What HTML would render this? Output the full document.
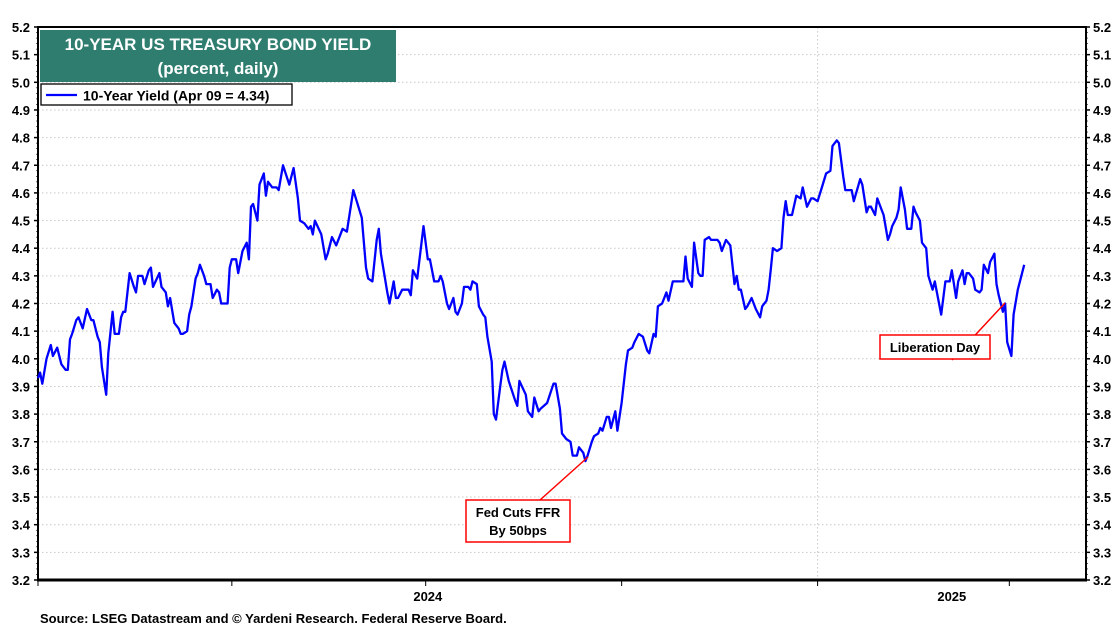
<!DOCTYPE html>
<html><head><meta charset="utf-8"><style>
html,body{margin:0;padding:0;background:#fff;}
svg{display:block;font-family:"Liberation Sans",Arial,sans-serif;}
</style></head><body>
<svg id="chart" width="1120" height="630" viewBox="0 0 1120 630">
<g id="grid"></g>
<g id="axes"></g>
<path id="line" fill="none" stroke="#0000ff" stroke-width="2.3" stroke-linejoin="round"></path>
<rect x="40" y="30" width="356" height="52" fill="#2e7d6f"/>
<text x="218" y="50" text-anchor="middle" fill="#fff" font-size="17" font-weight="bold">10-YEAR US TREASURY BOND YIELD</text>
<text x="218" y="74" text-anchor="middle" fill="#fff" font-size="17" font-weight="bold">(percent, daily)</text>
<g>
<rect x="41" y="84" width="251" height="21" fill="#fff" stroke="#000" stroke-width="1.3"/>
<line x1="46" y1="95" x2="77" y2="95" stroke="#0000ff" stroke-width="2.3"/>
<text x="83" y="100.5" font-size="14" font-weight="bold">10-Year Yield (Apr 09 = 4.34)</text>
</g>
<g>
<line x1="540" y1="500" x2="588" y2="457" stroke="#ff0000" stroke-width="1.5"/>
<rect x="466" y="500" width="104" height="42" fill="#fff" stroke="#ff0000" stroke-width="1.5"/>
<text x="518" y="517" text-anchor="middle" font-size="13" font-weight="bold">Fed Cuts FFR</text>
<text x="518" y="535" text-anchor="middle" font-size="13" font-weight="bold">By 50bps</text>
</g>
<g>
<line x1="952" y1="360" x2="1005" y2="303" stroke="#ff0000" stroke-width="1.5"/>
<rect x="880" y="335" width="110" height="24" fill="#fff" stroke="#ff0000" stroke-width="1.5"/>
<text x="935" y="352" text-anchor="middle" font-size="13" font-weight="bold">Liberation Day</text>
</g>
<text x="40" y="623" font-size="13" font-weight="bold">Source: LSEG Datastream and © Yardeni Research. Federal Reserve Board.</text>
</svg>
<script>
const days=[0,1,2,4,6,7,9,11,13,14,15,16,18,19,21,23,25,26,28,29,30,32,33,35,36,38,39,40,41,43,45,46,47,49,50,52,53,54,57,58,60,61,62,64,66,67,68,70,71,72,74,75,76,78,79,81,82,84,85,86,89,90,91,93,94,96,98,99,100,101,103,104,106,107,108,110,112,113,115,118,120,122,123,125,127,128,129,130,133,135,136,138,140,143,145,148,152,154,155,157,159,160,161,164,165,167,168,169,171,174,175,176,178,181,183,184,186,188,189,190,192,193,195,196,197,199,200,202,203,204,206,207,209,210,211,213,214,215,217,218,219,221,224,225,226,229,230,232,233,235,236,239,242,243,245,246,248,250,251,253,254,256,257,258,260,261,263,264,265,267,268,269,271,272,274,276,277,279,280,282,284,286,287,289,290,291,293,295,296,298,300,301,303,304,305,307,308,310,311,312,313,315,316,319,320,321,323,325,327,328,329,330,332,333,335,337,339,340,342,343,344,345,347,349,350,351,352,354,356,358,359,361,363,364,366,368,370,372,373,375,376,378,379,382,383,386,387,389,390,391,393,394,396,397,399,400,401,403,404,405,407,408,410,411,412,414,415,417,418,420,421,422,424,425,426,428,429,431,432,434,435,436,437,439,440,442,443,444,446,447,449,450,451,453,454,455,457,458,460,463];
const yields=[3.93,3.95,3.91,4.00,4.05,4.01,4.04,3.98,3.96,3.96,4.07,4.09,4.14,4.15,4.11,4.18,4.14,4.14,4.08,4.06,3.97,3.87,4.02,4.17,4.09,4.09,4.15,4.17,4.17,4.31,4.26,4.24,4.30,4.30,4.27,4.32,4.33,4.26,4.31,4.26,4.24,4.19,4.22,4.13,4.11,4.09,4.09,4.10,4.16,4.19,4.29,4.31,4.34,4.30,4.27,4.27,4.22,4.25,4.24,4.20,4.20,4.33,4.36,4.36,4.31,4.39,4.42,4.36,4.55,4.56,4.50,4.63,4.67,4.59,4.64,4.62,4.62,4.61,4.70,4.63,4.69,4.58,4.50,4.49,4.47,4.48,4.45,4.50,4.45,4.36,4.38,4.44,4.41,4.47,4.46,4.61,4.51,4.33,4.29,4.28,4.43,4.47,4.38,4.24,4.20,4.28,4.22,4.22,4.25,4.25,4.23,4.32,4.29,4.48,4.36,4.36,4.28,4.28,4.30,4.28,4.20,4.18,4.22,4.17,4.16,4.20,4.26,4.26,4.25,4.28,4.27,4.19,4.16,4.15,4.08,3.99,3.80,3.78,3.90,3.96,3.99,3.92,3.85,3.83,3.92,3.87,3.81,3.79,3.86,3.81,3.82,3.84,3.91,3.91,3.82,3.73,3.71,3.70,3.65,3.65,3.68,3.66,3.63,3.65,3.70,3.72,3.73,3.75,3.74,3.79,3.79,3.75,3.81,3.74,3.84,3.98,4.03,4.04,4.06,4.09,4.08,4.03,4.02,4.09,4.08,4.19,4.20,4.24,4.21,4.28,4.28,4.28,4.28,4.37,4.29,4.26,4.42,4.31,4.30,4.30,4.43,4.44,4.43,4.43,4.42,4.39,4.43,4.41,4.27,4.30,4.25,4.25,4.18,4.19,4.22,4.18,4.15,4.19,4.21,4.25,4.32,4.40,4.39,4.40,4.51,4.57,4.52,4.52,4.59,4.58,4.62,4.55,4.58,4.58,4.57,4.62,4.67,4.68,4.77,4.79,4.78,4.66,4.61,4.61,4.57,4.65,4.63,4.53,4.55,4.55,4.52,4.58,4.54,4.52,4.43,4.45,4.48,4.51,4.54,4.62,4.54,4.47,4.47,4.55,4.53,4.50,4.42,4.40,4.30,4.25,4.28,4.24,4.16,4.22,4.28,4.28,4.32,4.22,4.28,4.32,4.27,4.31,4.31,4.29,4.25,4.24,4.25,4.34,4.31,4.35,4.38,4.27,4.23,4.17,4.20,4.06,4.01,4.16,4.25,4.34];
const yTicks=[3.2,3.3,3.4,3.5,3.6,3.7,3.8,3.9,4.0,4.1,4.2,4.3,4.4,4.5,4.6,4.7,4.8,4.9,5.0,5.1,5.2];
const yearLabels=["2024","2025"];
const yearStartDays=[0,366];
const quarterDays=[0,91,182,274,366,456];

const L=38,R=1086,T=27,B=580,DAYSPAN=492;
const xs=d=>L+(d/DAYSPAN)*(R-L);
const ys=v=>B-(v-3.2)/2.0*(B-T);
const NS="http://www.w3.org/2000/svg";
function mk(tag,attrs,parent){const e=document.createElementNS(NS,tag);for(const k in attrs)e.setAttribute(k,attrs[k]);parent.appendChild(e);return e;}
const grid=document.getElementById('grid'),axes=document.getElementById('axes');
yTicks.forEach(v=>{
  if(v>3.2&&v<5.2){const g=mk('line',{x1:L,x2:R,y1:ys(v),y2:ys(v),stroke:'#c8c8c8','stroke-width':1,'stroke-dasharray':'1.5,2.5'},grid);
  
  }
  const t1=mk('text',{x:30,y:ys(v)+5,'text-anchor':'end','font-size':13,'font-weight':'bold'},axes);t1.textContent=v.toFixed(1);
  
  
  const t2=mk('text',{x:1093,y:ys(v)+5,'font-size':13,'font-weight':'bold'},axes);t2.textContent=v.toFixed(1);
  
  
  mk('line',{x1:L-4,x2:L,y1:ys(v),y2:ys(v),stroke:'#000','stroke-width':1.5},axes);
  mk('line',{x1:R,x2:R+4,y1:ys(v),y2:ys(v),stroke:'#000','stroke-width':1.5},axes);
});
for(let v=3.2;v<5.2;v+=0.02){mk('line',{x1:L-2,x2:L,y1:ys(v),y2:ys(v),stroke:'#000','stroke-width':0.6},axes);mk('line',{x1:R,x2:R+2,y1:ys(v),y2:ys(v),stroke:'#000','stroke-width':0.6},axes);}
yearStartDays.forEach((d,i)=>{
  if(d>0){const g=mk('line',{x1:xs(d),x2:xs(d),y1:T,y2:B,stroke:'#c8c8c8','stroke-width':1,'stroke-dasharray':'1.5,2.5'},grid);
  
  }
  const end=i+1<yearStartDays.length?yearStartDays[i+1]:DAYSPAN;
  const t=mk('text',{x:(xs(d)+xs(end))/2,y:601,'text-anchor':'middle','font-size':13,'font-weight':'bold'},axes);t.textContent=yearLabels[i];
  
  
});
quarterDays.forEach(d=>mk('line',{x1:xs(d),x2:xs(d),y1:B,y2:B+6,stroke:'#000','stroke-width':1},axes));
const frame=mk('rect',{x:L,y:T,width:R-L,height:B-T,fill:'none',stroke:'#000','stroke-width':2},axes);


mk('line',{x1:L-1,x2:R+1,y1:B,y2:B,stroke:'#000','stroke-width':3},axes);
let d='';days.forEach((dd,i)=>{d+=(i?'L':'M')+xs(dd).toFixed(1)+','+ys(yields[i]).toFixed(1);});
document.getElementById('line').setAttribute('d',d);
</script>
</body></html>
